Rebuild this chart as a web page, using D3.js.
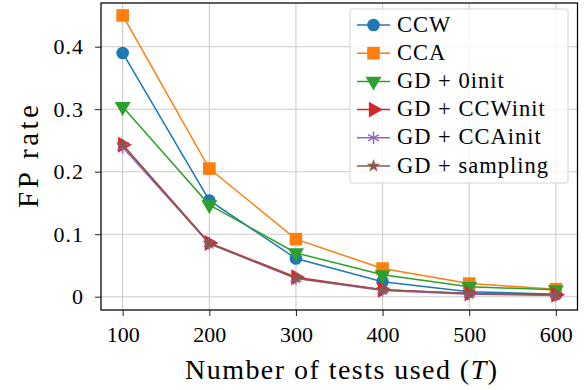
<!DOCTYPE html>
<html>
<head>
<meta charset="utf-8">
<script src="https://cdn.jsdelivr.net/npm/d3@7"></script>
<style>
  body { margin: 0; background: #fff; }
</style>
</head>
<body>
<div id="chart"></div>
<script>
// data
var tests = [100, 200, 300, 400, 500, 600];
var ccw = [0.390, 0.154, 0.061, 0.024, 0.008, 0.004];
var cca = [0.450, 0.205, 0.092, 0.045, 0.021, 0.012];
var gdZero = [0.304, 0.147, 0.070, 0.035, 0.016, 0.011];
var gdCcw = [0.243, 0.086, 0.031, 0.011, 0.005, 0.003];
var gdCca = [0.239, 0.085, 0.029, 0.010, 0.004, 0.002];
var gdSampling = [0.243, 0.085, 0.030, 0.011, 0.005, 0.003];
var yTicks = [0, 0.1, 0.2, 0.3, 0.4];
var xTicks = [100, 200, 300, 400, 500, 600];

var series = [
  { name: "CCW", values: ccw, color: "#1f77b4", marker: "circle" },
  { name: "CCA", values: cca, color: "#ff7f0e", marker: "square" },
  { name: "GD + 0init", values: gdZero, color: "#2ca02c", marker: "tridown" },
  { name: "GD + CCWinit", values: gdCcw, color: "#d62728", marker: "triright" },
  { name: "GD + CCAinit", values: gdCca, color: "#9467bd", marker: "asterisk" },
  { name: "GD + sampling", values: gdSampling, color: "#8c564b", marker: "star" }
];

var FONT = "'Liberation Serif', 'Times New Roman', Times, 'DejaVu Serif', serif";
var width = 585, height = 390;
var plot = { left: 101, right: 577.5, top: 3, bottom: 310 };

var svg = d3.select("#chart").append("svg")
  .attr("width", width)
  .attr("height", height)
  .style("font-family", FONT);

var x = d3.scaleLinear().domain([75, 625]).range([plot.left, plot.right]);
var y = d3.scaleLinear().domain([-0.0213, 0.4699]).range([plot.bottom, plot.top]);

// grid
svg.append("g").selectAll("line").data(xTicks).enter().append("line")
  .attr("x1", function(d) { return x(d); }).attr("x2", function(d) { return x(d); })
  .attr("y1", plot.top).attr("y2", plot.bottom)
  .attr("stroke", "#cbcbcb").attr("stroke-width", 1.1);
svg.append("g").selectAll("line").data(yTicks).enter().append("line")
  .attr("y1", function(d) { return y(d); }).attr("y2", function(d) { return y(d); })
  .attr("x1", plot.left).attr("x2", plot.right)
  .attr("stroke", "#cbcbcb").attr("stroke-width", 1.1);

// axes
var xAxis = svg.append("g")
  .attr("transform", "translate(0," + plot.bottom + ")")
  .call(d3.axisBottom(x).tickValues(xTicks).tickSize(6).tickPadding(10.5).tickFormat(d3.format("d")));
var yAxis = svg.append("g")
  .attr("transform", "translate(" + plot.left + ",0)")
  .call(d3.axisLeft(y).tickValues(yTicks).tickSize(6).tickPadding(11)
    .tickFormat(function(d) { return d === 0 ? "0" : d3.format(".1f")(d); }));
[xAxis, yAxis].forEach(function(a) {
  a.attr("font-family", null).attr("font-size", null)
    .style("font-family", FONT).style("font-size", "22px");
  a.select(".domain").remove();
  a.selectAll(".tick line").attr("stroke", "#222").attr("stroke-width", 1);
  a.selectAll(".tick text").attr("fill", "#000");
});
yAxis.selectAll(".tick text").style("letter-spacing", "1px");

// frame
svg.append("rect")
  .attr("x", plot.left).attr("y", plot.top)
  .attr("width", plot.right - plot.left).attr("height", plot.bottom - plot.top)
  .attr("fill", "none").attr("stroke", "#000").attr("stroke-width", 1.25);

function drawMarker(g, type, color) {
  if (type === "circle") {
    g.append("circle").attr("r", 6.3).attr("fill", color);
  } else if (type === "square") {
    g.append("rect").attr("x", -6.3).attr("y", -6.3).attr("width", 12.6).attr("height", 12.6).attr("fill", color);
  } else if (type === "tridown") {
    g.append("path").attr("d", d3.symbol(d3.symbolTriangle, 110)()).attr("transform", "rotate(180)").attr("fill", color);
  } else if (type === "triright") {
    g.append("path").attr("d", d3.symbol(d3.symbolTriangle, 110)()).attr("transform", "rotate(90)").attr("fill", color);
  } else if (type === "asterisk") {
    g.append("path").attr("d", d3.symbol(d3.symbolAsterisk, 110)()).attr("stroke", color).attr("stroke-width", 1.5).attr("fill", "none");
  } else if (type === "star") {
    g.append("path").attr("d", d3.symbol(d3.symbolStar, 45)()).attr("fill", color).attr("stroke", color).attr("stroke-width", 0.5);
  }
}

var line = d3.line()
  .x(function(d, i) { return x(tests[i]); })
  .y(function(d) { return y(d); });

var plotArea = svg.append("g");
series.forEach(function(s) {
  plotArea.append("path")
    .attr("d", line(s.values))
    .attr("fill", "none")
    .attr("stroke", s.color)
    .attr("stroke-width", 1.5);
  s.values.forEach(function(v, i) {
    var g = plotArea.append("g").attr("transform", "translate(" + x(tests[i]) + "," + y(v) + ")");
    drawMarker(g, s.marker, s.color);
  });
});

// axis labels
var xl = svg.append("text")
  .attr("x", 341)
  .attr("y", 379)
  .attr("text-anchor", "middle")
  .style("font-size", "28px")
  .attr("textLength", 312)
  .attr("lengthAdjust", "spacing");
xl.append("tspan").text("Number of tests used (");
xl.append("tspan").style("font-style", "italic").text("T");
xl.append("tspan").text(")");

svg.append("text")
  .attr("transform", "translate(38,156.5) rotate(-90)")
  .attr("text-anchor", "middle")
  .style("font-size", "29px")
  .attr("textLength", 103)
  .attr("lengthAdjust", "spacing")
  .text("FP rate");

// legend
var legend = svg.append("g");
legend.append("rect")
  .attr("x", 350).attr("y", 9).attr("width", 218).attr("height", 174)
  .attr("rx", 2)
  .attr("fill", "#fff").attr("fill-opacity", 0.8)
  .attr("stroke", "#d4d4d4").attr("stroke-width", 1);
series.forEach(function(s, i) {
  var ly = 25 + i * 28.2;
  var item = legend.append("g").attr("transform", "translate(0," + ly + ")");
  item.append("line").attr("x1", 357).attr("x2", 390).attr("y1", 0).attr("y2", 0)
    .attr("stroke", s.color).attr("stroke-width", 1.5);
  drawMarker(item.append("g").attr("transform", "translate(373.5,0)"), s.marker, s.color);
  item.append("text").attr("x", 397).attr("y", 6.5)
    .style("font-size", "22.5px").style("letter-spacing", "1px").text(s.name);
});
</script>
</body>
</html>
